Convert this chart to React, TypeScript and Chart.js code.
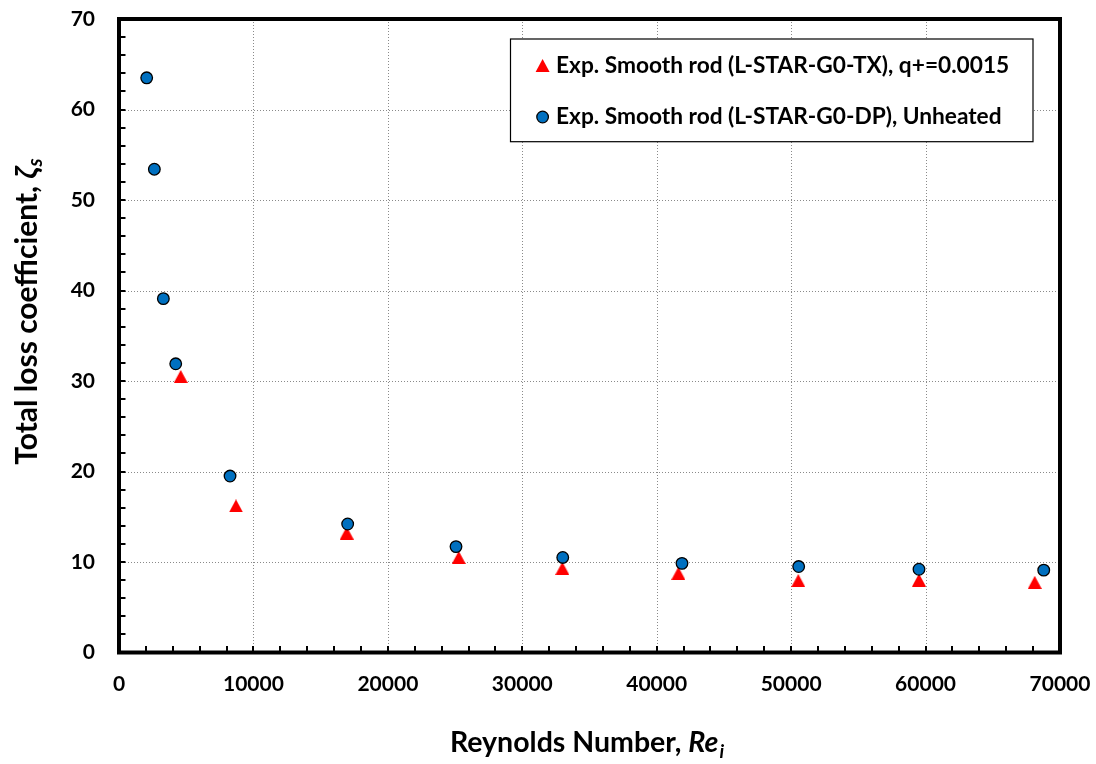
import React, { useEffect, useRef } from 'react';
import { Chart, registerables } from 'chart.js';

Chart.register(...registerables);

const FONT = "Lato, 'Open Sans', 'DejaVu Sans', sans-serif";

// Series: Exp. Smooth rod (L-STAR-G0-DP), Unheated
const reynoldsUnheated = [2060, 2630, 3300, 4220, 8260, 17010, 25070, 33010, 41880, 50560, 59510, 68790];
const lossUnheated = [63.5, 53.4, 39.1, 31.9, 19.5, 14.2, 11.7, 10.5, 9.85, 9.5, 9.2, 9.1];

// Series: Exp. Smooth rod (L-STAR-G0-TX), q+=0.0015
const reynoldsHeated = [4590, 8700, 16940, 25270, 32980, 41610, 50530, 59510, 68120];
const lossHeated = [30.5, 16.2, 13.2, 10.5, 9.3, 8.75, 7.95, 8.0, 7.75];

const legendLabels = [
  'Exp. Smooth rod (L-STAR-G0-TX), q+=0.0015',
  'Exp. Smooth rod (L-STAR-G0-DP), Unheated',
];

const xTickValues = [0, 10000, 20000, 30000, 40000, 50000, 60000, 70000];
const yTickValues = [0, 10, 20, 30, 40, 50, 60, 70];
const xMinorStep = 2000;
const yMinorStep = 2;

const xTitleMain = 'Reynolds Number, ';
const xTitleVar = 'Re';
const xTitleSub = 'i';
const yTitleMain = 'Total loss coefficient, ';
const yTitleVar = 'ζ';
const yTitleSub = 's';

const BLUE = '#0070C0';
const RED = '#FF0000';

function makeTriangle(w: number, h: number, color: string) {
  const c = document.createElement('canvas');
  c.width = w;
  c.height = h;
  const ctx = c.getContext('2d')!;
  ctx.fillStyle = color;
  ctx.beginPath();
  ctx.moveTo(w / 2, 0);
  ctx.lineTo(w, h);
  ctx.lineTo(0, h);
  ctx.closePath();
  ctx.fill();
  return c;
}

function drawTriangle(ctx: CanvasRenderingContext2D, cx: number, cy: number, w: number, h: number, color: string) {
  ctx.fillStyle = color;
  ctx.beginPath();
  ctx.moveTo(cx, cy - h / 2);
  ctx.lineTo(cx + w / 2, cy + h / 2);
  ctx.lineTo(cx - w / 2, cy + h / 2);
  ctx.closePath();
  ctx.fill();
}

function drawCircle(ctx: CanvasRenderingContext2D, cx: number, cy: number, r: number) {
  ctx.fillStyle = BLUE;
  ctx.strokeStyle = '#000';
  ctx.lineWidth = 1.3;
  ctx.beginPath();
  ctx.arc(cx, cy, r, 0, Math.PI * 2);
  ctx.fill();
  ctx.stroke();
}

function noScalePadding(s: any) {
  s.paddingTop = 0;
  s.paddingBottom = 0;
  s.paddingLeft = 0;
  s.paddingRight = 0;
}

const decorPlugin = {
  id: 'decor',
  beforeDatasetsDraw(chart: any) {
    const { ctx, chartArea: a, scales } = chart;
    const x = scales.x;
    const y = scales.y;
    ctx.save();
    ctx.strokeStyle = '#8a8a8a';
    ctx.lineWidth = 1;
    ctx.setLineDash([1, 2]);
    xTickValues.slice(1, -1).forEach((v) => {
      const px = Math.round(x.getPixelForValue(v)) + 0.5;
      ctx.beginPath();
      ctx.moveTo(px, a.top);
      ctx.lineTo(px, a.bottom);
      ctx.stroke();
    });
    yTickValues.slice(1, -1).forEach((v) => {
      const py = Math.round(y.getPixelForValue(v)) + 0.5;
      ctx.beginPath();
      ctx.moveTo(a.left, py);
      ctx.lineTo(a.right, py);
      ctx.stroke();
    });
    ctx.restore();
  },
  afterDatasetsDraw(chart: any) {
    const { ctx, chartArea: a, scales } = chart;
    const x = scales.x;
    const y = scales.y;
    ctx.save();
    // minor + major tick marks (inside)
    ctx.strokeStyle = '#000';
    ctx.lineWidth = 2;
    for (let v = xMinorStep; v < x.max; v += xMinorStep) {
      const px = Math.round(x.getPixelForValue(v));
      ctx.beginPath();
      ctx.moveTo(px, a.bottom);
      ctx.lineTo(px, a.bottom - 6.5);
      ctx.stroke();
    }
    for (let v = yMinorStep; v < y.max; v += yMinorStep) {
      const py = Math.round(y.getPixelForValue(v));
      ctx.beginPath();
      ctx.moveTo(a.left, py);
      ctx.lineTo(a.left + 6.5, py);
      ctx.stroke();
    }
    // plot border
    ctx.lineWidth = 4;
    ctx.strokeRect(a.left, a.top, a.right - a.left, a.bottom - a.top);

    // legend
    const bx = 510.5, by = 39, bw = 522.5, bh = 102.7;
    ctx.fillStyle = '#fff';
    ctx.fillRect(bx, by, bw, bh);
    ctx.lineWidth = 1.2;
    ctx.strokeStyle = '#000';
    ctx.strokeRect(bx, by, bw, bh);
    drawTriangle(ctx, 542.6, 65.5, 14, 13, RED);
    drawCircle(ctx, 542.6, 117, 5.8);
    ctx.fillStyle = '#000';
    ctx.font = `bold 22.7px ${FONT}`;
    ctx.textAlign = 'left';
    ctx.textBaseline = 'alphabetic';
    ctx.fillText(legendLabels[0], 556, 72.5);
    ctx.fillText(legendLabels[1], 556, 124);

    // x title
    const xMain = `bold 28.5px ${FONT}`;
    const xVar = `italic bold 28.5px ${FONT}`;
    const xSub = `italic bold 19px ${FONT}`;
    ctx.font = xMain;
    const w1 = ctx.measureText(xTitleMain).width;
    ctx.font = xVar;
    const w2 = ctx.measureText(xTitleVar).width;
    ctx.font = xSub;
    const w3 = ctx.measureText(xTitleSub).width;
    const total = w1 + w2 + w3;
    let sx = 586.5 - total / 2;
    const baseX = 752;
    ctx.font = xMain;
    ctx.fillText(xTitleMain, sx, baseX);
    sx += w1;
    ctx.font = xVar;
    ctx.fillText(xTitleVar, sx, baseX);
    sx += w2 + 1;
    ctx.font = xSub;
    ctx.fillText(xTitleSub, sx, baseX + 6);

    // y title (rotated)
    const yMain = `bold 30px ${FONT}`;
    const yVar = `italic bold 30px ${FONT}`;
    const ySub = `italic bold 20px ${FONT}`;
    ctx.save();
    ctx.translate(37, 0);
    ctx.rotate(-Math.PI / 2);
    ctx.font = yMain;
    const v1 = ctx.measureText(yTitleMain).width;
    ctx.font = yVar;
    const v2 = ctx.measureText(yTitleVar).width;
    ctx.font = ySub;
    const v3 = ctx.measureText(yTitleSub).width;
    const vt = v1 + v2 + v3;
    const centerY = 312;
    let sy = -(centerY + vt / 2);
    ctx.font = yMain;
    ctx.fillText(yTitleMain, sy, 0);
    sy += v1;
    ctx.font = yVar;
    ctx.fillText(yTitleVar, sy, 0);
    sy += v2 + 1;
    ctx.font = ySub;
    ctx.fillText(yTitleSub, sy, 5);
    ctx.restore();

    ctx.restore();
  },
};

export default function App() {
  const ref = useRef<HTMLCanvasElement>(null);
  useEffect(() => {
    if (!ref.current) return;
    const triangle = makeTriangle(14, 13, RED);
    const chart = new Chart(ref.current, {
      type: 'scatter',
      data: {
        datasets: [
          {
            label: legendLabels[1],
            data: reynoldsUnheated.map((v, i) => ({ x: v, y: lossUnheated[i] })),
            pointStyle: 'circle',
            pointRadius: 5.8,
            pointHoverRadius: 5.8,
            backgroundColor: BLUE,
            borderColor: '#000',
            borderWidth: 1.3,
          },
          {
            label: legendLabels[0],
            data: reynoldsHeated.map((v, i) => ({ x: v, y: lossHeated[i] })),
            pointStyle: triangle as any,
            pointRadius: 7,
            backgroundColor: RED,
            borderColor: RED,
            borderWidth: 0,
          },
        ],
      },
      options: {
        responsive: false,
        animation: false,
        devicePixelRatio: 1,
        layout: { padding: { top: 19, right: 36, left: 0, bottom: 0 } },
        plugins: {
          legend: { display: false },
          tooltip: { enabled: false },
        },
        scales: {
          x: {
            type: 'linear',
            min: 0,
            max: 70000,
            grid: { display: false, drawTicks: false },
            border: { display: false },
            afterBuildTicks: (s: any) => {
              s.ticks = xTickValues.map((v) => ({ value: v }));
            },
            afterFit: (s: any) => {
              s.height = 111.5;
              noScalePadding(s);
            },
            ticks: {
              color: '#000',
              padding: 19,
              maxRotation: 0,
              font: { family: FONT, size: 21, weight: 'bold' },
              callback: (v: any) => String(v),
            },
          },
          y: {
            type: 'linear',
            min: 0,
            max: 70,
            grid: { display: false, drawTicks: false },
            border: { display: false },
            afterBuildTicks: (s: any) => {
              s.ticks = yTickValues.map((v) => ({ value: v }));
            },
            afterFit: (s: any) => {
              s.width = 119;
              noScalePadding(s);
            },
            ticks: {
              color: '#000',
              padding: 24,
              font: { family: FONT, size: 21, weight: 'bold' },
              callback: (v: any) => String(v),
            },
          },
        },
      } as any,
      plugins: [decorPlugin],
    });
    return () => chart.destroy();
  }, []);
  return (
    <div style={{ position: 'absolute', left: 0, top: 0, width: 1096, height: 764, background: '#fff' }}>
      <canvas ref={ref} width={1096} height={764} style={{ display: 'block' }} />
    </div>
  );
}
